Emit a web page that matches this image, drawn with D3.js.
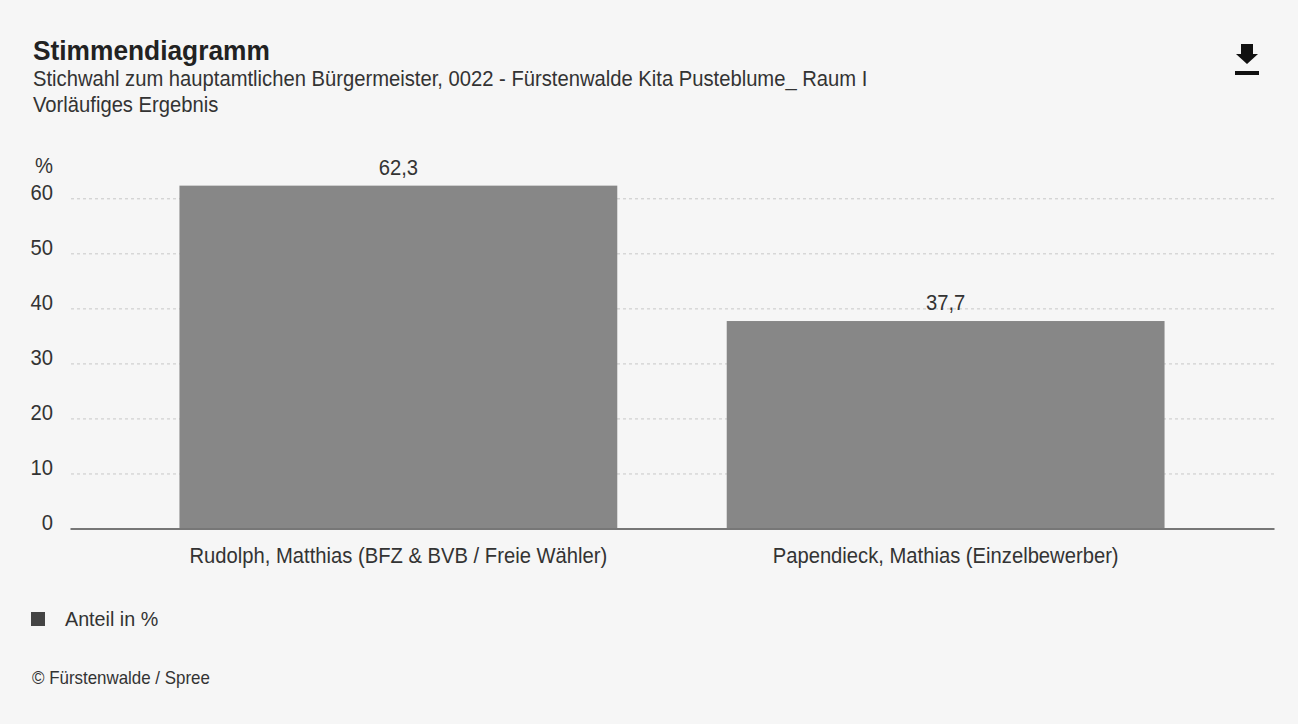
<!DOCTYPE html>
<html lang="de">
<head>
  <meta charset="UTF-8">
  <title>Stimmendiagramm</title>
  <script src="https://d3js.org/d3.v7.min.js"></script>
  <style>
    body { margin: 0; background: #f6f6f6; }
    svg { display: block; font-family: "Liberation Sans", Arial, sans-serif; }
  </style>
</head>
<body>
<div class="canvas"></div>
<script>
  // Werte aus dem Bild
  const categories = ['Rudolph, Matthias (BFZ & BVB / Freie Wähler)', 'Papendieck, Mathias (Einzelbewerber)']
  const values = [62.3, 37.7]
  const yTicks = [0, 10, 20, 30, 40, 50, 60]
  const seriesName = 'Anteil in %'

  // Schrift im Original etwas schmaler und höher
  const sx = 0.94

  const svg = d3.select('.canvas')
    .append('svg')
    .attr('width', 1298)
    .attr('height', 724)

  svg.append('rect')
    .attr('width', 1298)
    .attr('height', 724)
    .attr('fill', '#f6f6f6')

  // Text an (x,y), horizontal gestaucht
  function label(px, py, size, txt) {
    return svg.append('text')
      .attr('transform', `translate(${px},${py}) scale(${sx},1)`)
      .attr('font-size', size)
      .attr('fill', '#333')
      .text(txt)
  }

  // Kopf
  label(33, 60, 28, 'Stimmendiagramm').attr('font-weight', 'bold').attr('fill', '#222')
  label(33, 86, 21.5, 'Stichwahl zum hauptamtlichen Bürgermeister, 0022 - Fürstenwalde Kita Pusteblume_ Raum I')
  label(33, 112, 21.5, 'Vorläufiges Ergebnis')

  // Download-Symbol
  svg.append('path')
    .attr('d', 'M1241,44 H1253 V54 H1258 L1247,64 L1236,54 H1241 Z')
    .attr('fill', '#111')
  svg.append('rect')
    .attr('x', 1235).attr('y', 71).attr('width', 24).attr('height', 4)
    .attr('fill', '#111')

  const x = d3.scaleBand()
    .domain(categories)
    .range([70, 1274])
    .paddingInner(0.2)
    .paddingOuter(0.2)

  const y = d3.scaleLinear()
    .domain([0, 60])
    .range([528.5, 198.3])

  // Gitterlinien
  const grid = svg.append('g')
    .attr('transform', 'translate(1274,0)')
    .call(d3.axisLeft(y).tickValues(yTicks.filter(d => d > 0)).tickSize(1204).tickFormat(''))
  grid.select('.domain').remove()
  grid.selectAll('line')
    .attr('stroke', '#c8c8c8')
    .attr('stroke-dasharray', '3,3')

  // y-Achse
  const yAxis = svg.append('g')
    .attr('transform', 'translate(53,0)')
    .call(d3.axisLeft(y).tickValues(yTicks).tickSize(0).tickPadding(0))
  yAxis.select('.domain').remove()
  yAxis.selectAll('text')
    .attr('dy', '0.05em')
    .attr('transform', `scale(${sx},1)`)
    .attr('font-size', 21.5)
    .attr('font-family', null)
    .attr('fill', '#333')

  label(53, 173, 21.5, '%').attr('text-anchor', 'end')

  // Balken
  svg.selectAll('rect.bar')
    .data(values)
    .enter()
    .append('rect')
    .attr('class', 'bar')
    .attr('x', (d, i) => x(categories[i]))
    .attr('y', d => y(d))
    .attr('width', x.bandwidth())
    .attr('height', d => y(0) - y(d))
    .attr('fill', '#878787')

  values.forEach((d, i) => {
    label(x(categories[i]) + x.bandwidth() / 2, y(d) - 11, 21.5, d3.format('.1f')(d).replace('.', ','))
      .attr('text-anchor', 'middle')
  })

  // x-Achse
  const xAxis = svg.append('g')
    .attr('transform', 'translate(0,' + y(0) + ')')
    .call(d3.axisBottom(x).tickSize(0).tickPadding(19))
  xAxis.select('.domain')
    .attr('stroke', '#777')
    .attr('stroke-width', 2)
  xAxis.selectAll('text')
    .attr('transform', `scale(${sx},1)`)
    .attr('font-size', 21.5)
    .attr('font-family', null)
    .attr('fill', '#333')

  // Legende
  svg.append('rect')
    .attr('x', 31).attr('y', 612).attr('width', 14).attr('height', 14)
    .attr('fill', '#444')
  label(65, 626, 21, seriesName)

  label(32, 684, 18, '© Fürstenwalde / Spree')
</script>
</body>
</html>
